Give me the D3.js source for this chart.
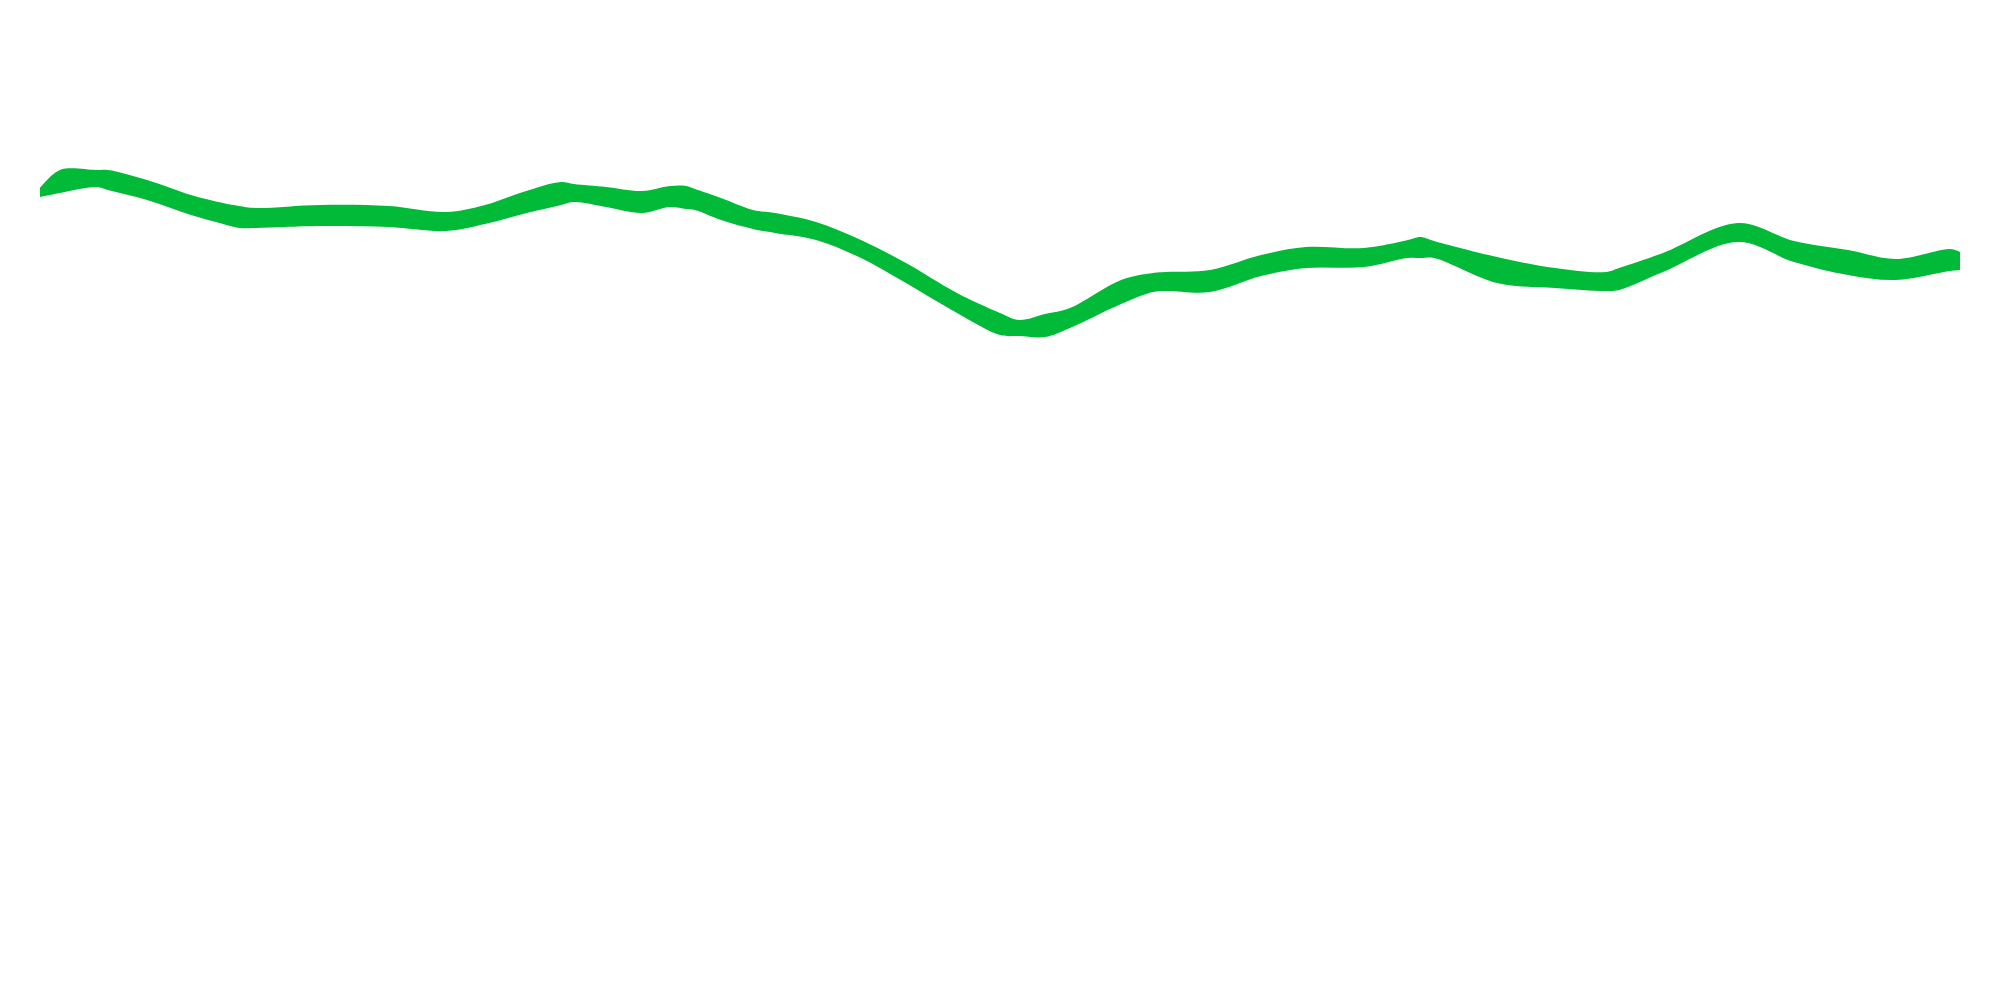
<!DOCTYPE html>
<html>
<head>
<meta charset="utf-8">
<script src="https://cdn.jsdelivr.net/npm/d3@7"></script>
<style>
html,body{margin:0;padding:0;background:#fff;}
svg{display:block;}
</style>
</head>
<body>
<svg id="chart" width="2000" height="1000"></svg>
<script>
// positions along the series (t)
const positions = [0,20,56,68,107,151,183,199,215,280,349,406,445,483,521,534,566,602,630,646,655,681,713,735,776,821,866,917,960,979,1005,1030,1081,1113,1126,1170,1221,1266,1324,1368,1381,1394,1457,1515,1566,1579,1623,1698,1754,1808,1856,1910,1920];
// upper edge of the band
const upperValues = [812,830,830,830,820,805,797,794,792,795,794,788,795,808,818,816,813,809,814,814,811,802,790,787,778,760,737,707,687,680,686,692,720,727,728,730,745,753,752,760,763,759,743,732,728,732,747,777,759,750,741,751,748];
// lower edge of the band
const lowerValues = [803,807,813,810,800,785,776,772,772,774,773,769,776,786,795,798,793,787,793,791,790,780,771,767,760,742,717,687,665,664,663,672,696,708,709,708,724,732,733,742,742,742,717,712,709,710,728,758,738,725,720,729,730];

const data = positions.map((t,i)=>({t, hi: upperValues[i], lo: lowerValues[i]}));

const svg = d3.select("#chart");
const x = d3.scaleLinear().domain([0,1920]).range([40,1960]);
const y = d3.scaleLinear().domain([0,1000]).range([1000,0]);

const area = d3.area()
  .x(d => x(d.t))
  .y0(d => y(d.lo))
  .y1(d => y(d.hi))
  .curve(d3.curveCatmullRom.alpha(0.5));

svg.append("path")
  .datum(data)
  .attr("d", area)
  .attr("fill", "#00BA38");
</script>
</body>
</html>
